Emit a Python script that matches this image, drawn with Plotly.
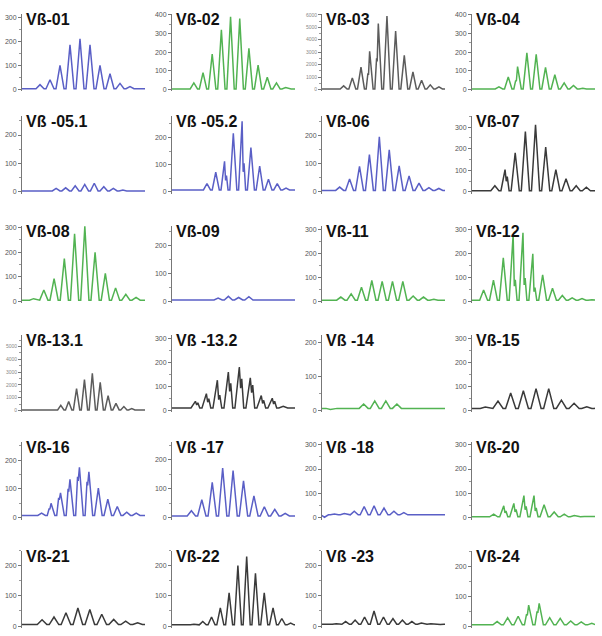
import plotly.graph_objects as go

# ---------------- data: peak heights per CDR3-length slot ----------------
names = ["Vß-01", "Vß-02", "Vß-03", "Vß-04",
         "Vß -05.1", "Vß -05.2", "Vß-06", "Vß-07",
         "Vß-08", "Vß-09", "Vß-11", "Vß-12",
         "Vß-13.1", "Vß -13.2", "Vß -14", "Vß-15",
         "Vß-16", "Vß -17", "Vß -18", "Vß-20",
         "Vß-21", "Vß-22", "Vß -23", "Vß-24"]

vb01 = [5, 20, 40, 100, 185, 210, 185, 100, 65, 25, 12, 5]
vb02 = [2, 5, 35, 90, 190, 320, 390, 380, 220, 130, 65, 35, 10, 3]
vb03 = [30, 60, 290, 930, 1790, 3060, 5300, 5900, 4700, 2745, 1420, 735, 370, 200, 80]
vb04 = [3, 5, 14, 67, 123, 196, 189, 119, 79, 35, 21, 7, 3]
vb051 = [3, 3, 4, 12, 14, 21, 26, 30, 18, 12, 6, 5, 3]
vb052 = [5, 5, 6, 30, 72, 112, 215, 260, 163, 95, 46, 30, 14, 5, 4]
vb06 = [6, 17, 46, 91, 133, 197, 150, 93, 57, 31, 15, 12, 8]
vb07 = [5, 7, 28, 103, 181, 279, 311, 207, 103, 60, 28, 21, 6]
vb08 = [3, 10, 45, 92, 173, 275, 305, 199, 113, 54, 28, 15, 5]
vb09 = [4, 4, 4, 5, 11, 17, 13, 16, 6, 5, 5, 4]
vb11 = [5, 17, 30, 58, 86, 82, 82, 82, 21, 17, 8, 5]
vb12 = [5, 47, 88, 182, 280, 288, 199, 111, 54, 24, 14, 11, 6]
vb131 = [40, 30, 30, 50, 400, 700, 1700, 2400, 2900, 2200, 1150, 550, 300, 150, 80, 50, 40]
vb132 = [10, 13, 38, 70, 126, 160, 181, 136, 62, 51, 17, 8]
vb14 = [3, 6, 7, 19, 28, 28, 19, 8, 7, 7, 6, 5]
vb15 = [14, 39, 73, 82, 91, 91, 43, 30, 15, 13]
vb16 = [8, 16, 50, 86, 133, 175, 159, 103, 64, 39, 19, 16, 8]
vb17 = [8, 24, 62, 122, 171, 162, 127, 75, 38, 29, 15, 6]
vb18 = [2, 15, 17, 27, 46, 49, 40, 27, 21, 15, 13, 13, 13]
vb20 = [3, 5, 15, 49, 59, 91, 91, 53, 24, 15, 9, 5, 3]
vb21 = [5, 21, 30, 44, 60, 55, 39, 22, 16, 11, 8]
vb22 = [3, 4, 6, 15, 30, 60, 110, 200, 230, 175, 110, 60, 25, 10]
vb23 = [5, 8, 15, 20, 30, 50, 30, 25, 20, 15, 10, 8, 5]
vb24 = [4, 6, 15, 28, 33, 70, 76, 28, 26, 17, 14, 9]

# shoulder humps (right = after the peak, left = before the peak), by slot
vb03_ls = {5: 1300, 6: 2500}
vb04_ls = {4: 49}
vb052_rs = {5: 60, 7: 105}
vb07_rs = {3: 70}
vb12_rs = {4: 90, 5: 97, 6: 57}
vb132_rs = {2: 32, 3: 49, 4: 64, 5: 113, 6: 132, 7: 106, 8: 42, 9: 38}
vb16_ls = {2: 32, 3: 69, 4: 100, 5: 142, 6: 125}
vb20_rs = {3: 28, 4: 34, 5: 47, 6: 40}
vb24_ls = {5: 40, 6: 49}

# baseline level of each trace
bases = [3, 3, 40, 3, 3, 7, 5, 5, 4, 4, 4, 4, 40, 10, 6, 8, 8, 6, 12, 4, 5, 4, 6, 4]

series = [vb01, vb02, vb03, vb04, vb051, vb052, vb06, vb07, vb08, vb09, vb11, vb12,
          vb131, vb132, vb14, vb15, vb16, vb17, vb18, vb20, vb21, vb22, vb23, vb24]
right_sh = [None, None, None, None, None, vb052_rs, None, vb07_rs, None, None, None, vb12_rs,
            None, vb132_rs, None, None, None, None, None, vb20_rs, None, None, None, None]
left_sh = [None, None, vb03_ls, vb04_ls, None, None, None, None, None, None, None, None,
           None, None, None, None, vb16_ls, None, None, None, None, None, None, vb24_ls]

# ---------------- styles / layout ----------------
BLUE = "#5a5fc6"
GREEN = "#52b352"
DARK = "#3a3a3a"
GRAY = "#5c5c5c"
colors = [BLUE, GREEN, GRAY, GREEN,
          BLUE, BLUE, BLUE, DARK,
          GREEN, BLUE, GREEN, GREEN,
          GRAY, DARK, GREEN, DARK,
          BLUE, BLUE, BLUE, GREEN,
          DARK, DARK, DARK, GREEN]
ymaxs = [313, 405, 6070, 405,
         266, 278, 270, 350,
         308, 271, 315, 318,
         5900, 315, 222, 315,
         262, 260, 310, 310,
         250, 250, 250, 253]
x_start = [-0.3, 0.12, 0.0, -0.39,
           -0.08, -0.48, -0.28, 0.25,
           0.37, 0.0, -0.32, 0.32,
           -0.42, 0.37, -0.26, -0.55,
           -0.57, -0.36, 0.25, 0.35,
           -0.18, 0.0, 0.0, 0.11]
x_span = [12.3, 13.4, 14.2, 13.2,
          12.9, 14.0, 12.4, 12.1,
          12.0, 12.0, 11.9, 12.5,
          15.6, 11.2, 11.1, 9.7,
          13.0, 11.8, 12.4, 12.2,
          10.3, 14.0, 13.0, 11.7]

W, H = 602, 636
col_left = [22, 172, 322, 472]
plot_w = 123
row_base = [87, 190, 300, 410, 518, 627]
plot_h = 78


def build(vals, base, rs, ls):
    xs, ys = [-3.0], [base]
    for k, h in enumerate(vals):
        xs.append(k + 0.1); ys.append(base)
        if ls and k in ls:
            xs += [k + 0.3, k + 0.37]; ys += [ls[k], ls[k] * 0.9]
        xs.append(k + 0.5); ys.append(h)
        if rs and k in rs:
            xs += [k + 0.62, k + 0.72]; ys += [rs[k] * 0.7, rs[k]]
        xs.append(k + 0.9); ys.append(base)
    xs.append(len(vals) + 4); ys.append(base)
    return xs, ys


fig = go.Figure()
annotations = []
for i, vals in enumerate(series):
    r, c = divmod(i, 4)
    sfx = "" if i == 0 else str(i + 1)
    xs, ys = build(vals, bases[i], right_sh[i], left_sh[i])
    fig.add_trace(go.Scatter(x=xs, y=ys, mode="lines",
                             line=dict(color=colors[i], width=1.5),
                             xaxis=f"x{sfx}", yaxis=f"y{sfx}",
                             hoverinfo="skip", showlegend=False))
    ymax = ymaxs[i]
    big = ymax > 1000
    dt = 1000 if big else 100
    tv = list(range(0, int(ymax) + 1, dt))
    x0 = col_left[c] / W
    x1 = (col_left[c] + plot_w) / W
    yb = (H - (row_base[r] + 2)) / H
    yt = (H - (row_base[r] + 2 - plot_h)) / H
    lo = -ymax * 2.0 / (plot_h - 2)
    fig.layout[f"xaxis{sfx}"] = dict(domain=[x0, x1], anchor=f"y{sfx}",
                                     range=[x_start[i], x_start[i] + x_span[i]],
                                     visible=False, fixedrange=True)
    fig.layout[f"yaxis{sfx}"] = dict(domain=[yb, yt], anchor=f"x{sfx}",
                                     range=[lo, ymax], tickvals=tv,
                                     ticktext=[str(v) for v in tv],
                                     showline=True, linecolor="#777", linewidth=1,
                                     ticks="outside", ticklen=3, tickcolor="#777",
                                     tickfont=dict(size=5 if big else 7,
                                                   color="#888" if big else "#555",
                                                   family="Liberation Sans, Arial"),
                                     minor=dict(ticks="outside", ticklen=2, tickcolor="#999",
                                                dtick=dt / 2),
                                     showgrid=False, zeroline=False, fixedrange=True)
    annotations.append(dict(text=f"<b>{names[i]}</b>", xref=f"x{sfx} domain",
                            yref=f"y{sfx} domain", x=0, y=1, xanchor="left",
                            yanchor="top", xshift=2, yshift=5, showarrow=False,
                            font=dict(size=16, color="#111",
                                      family="Liberation Sans, Arial")))

fig.update_layout(width=W, height=H, margin=dict(l=0, r=0, t=0, b=0),
                  paper_bgcolor="white", plot_bgcolor="white",
                  annotations=annotations, showlegend=False)
fig.write_html("out.html", config={"displayModeBar": False},
               post_script="document.body.style.margin='0';document.body.style.padding='0';")
